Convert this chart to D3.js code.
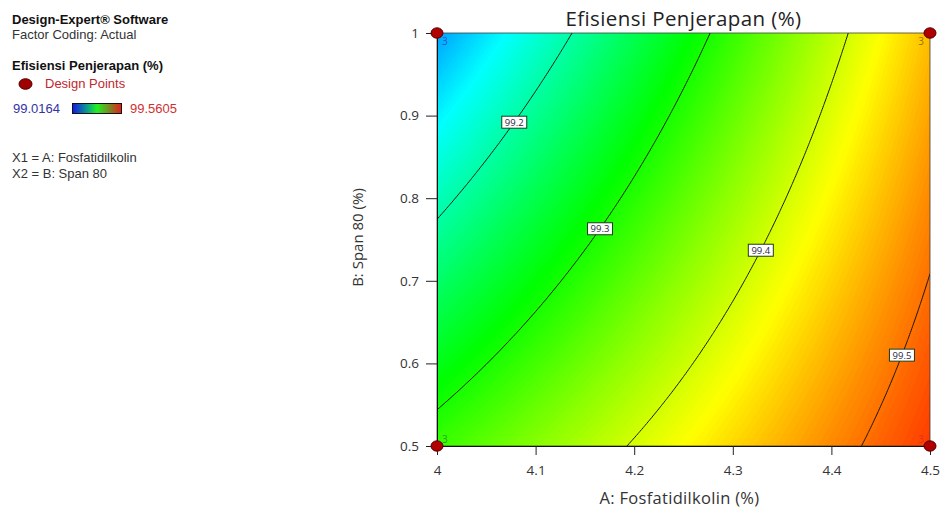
<!DOCTYPE html>
<html><head><meta charset="utf-8">
<script src="https://cdn.jsdelivr.net/npm/d3@7"></script>
<style>
body{margin:0;background:#fff}
svg{display:block;font-family:"Open Sans",sans-serif}
</style>
</head><body>
<svg id="chart" width="941" height="510"></svg>
<script>
// ---------- data ----------
const xDomain = [4, 4.5];
const yDomain = [0.5, 1];
const xTicks = [4, 4.1, 4.2, 4.3, 4.4, 4.5];
const xTickLabels = ["4", "4.1", "4.2", "4.3", "4.4", "4.5"];
const yTicks = [0.5, 0.6, 0.7, 0.8, 0.9, 1];
const yTickLabels = ["0.5", "0.6", "0.7", "0.8", "0.9", "1"];
// fitted 2FI model in coded units (Intercept, A, B, AB)
const modelTerms = ["Intercept", "A", "B", "AB"];
const modelCoefs = [99.3524, 0.1418, -0.0717, 0.0367];
const responseRange = [99.0164, 99.5605];
const contourLevels = [99.2, 99.3, 99.4, 99.5];
const contourLabels = ["99.2", "99.3", "99.4", "99.5"];
const labelAtSpan = [0.892, 0.763, 0.737, 0.610];
const designA = [4, 4.5, 4, 4.5];
const designB = [1, 1, 0.5, 0.5];
const designReps = ["3", "3", "3", "3"];
const designRepColors = ["#2f55c8", "#9a7400", "#27a21e", "#d8381a"];

// ---------- setup ----------
const svg = d3.select("#chart");
const W = 941, H = 510;
const L = 437, R = 930, T = 33, B = 446;
const x = d3.scaleLinear(xDomain, [L, R]);
const y = d3.scaleLinear(yDomain, [B, T]);

function model(a, b) {
  const x1 = (a - (xDomain[0] + xDomain[1]) / 2) / ((xDomain[1] - xDomain[0]) / 2);
  const x2 = (b - (yDomain[0] + yDomain[1]) / 2) / ((yDomain[1] - yDomain[0]) / 2);
  return modelCoefs[0] + modelCoefs[1] * x1 + modelCoefs[2] * x2 + modelCoefs[3] * x1 * x2;
}

const lo = responseRange[0], hi = responseRange[1];
const color = d3.scaleLinear()
  .domain([0, 0.25, 0.5, 0.75, 1].map(f => lo + f * (hi - lo)))
  .range(["#0000ff", "#00ffff", "#00ff00", "#ffff00", "#ff0000"])
  .clamp(true);

// grid
const n = 201;
const values = new Array(n * n);
for (let j = 0; j < n; j++) {
  const bv = yDomain[1] - j / (n - 1) * (yDomain[1] - yDomain[0]);
  for (let i = 0; i < n; i++) {
    const av = xDomain[0] + i / (n - 1) * (xDomain[1] - xDomain[0]);
    values[j * n + i] = model(av, bv);
  }
}
const proj = d3.geoTransform({
  point(cx, cy) {
    const av = xDomain[0] + (cx - 0.5) / (n - 1) * (xDomain[1] - xDomain[0]);
    const bv = yDomain[1] - (cy - 0.5) / (n - 1) * (yDomain[1] - yDomain[0]);
    this.stream.point(x(av), y(bv));
  }
});
const path = d3.geoPath(proj);

svg.append("rect").attr("width", W).attr("height", H).attr("fill", "#fff");

const defs = svg.append("defs");
defs.append("clipPath").attr("id", "plotclip")
  .append("rect").attr("x", L).attr("y", T).attr("width", R - L).attr("height", B - T);

// filled field
const step = 0.003;
const fillThresholds = d3.range(lo, hi, step);
const fills = d3.contours().size([n, n]).thresholds(fillThresholds)(values);
const gField = svg.append("g").attr("clip-path", "url(#plotclip)");
gField.selectAll("path").data(fills).join("path")
  .attr("d", path)
  .attr("fill", d => color(d.value + step / 2))
  .attr("stroke", d => color(d.value + step / 2))
  .attr("stroke-width", 0.6);

// contour lines
const lines = d3.contours().size([n, n]).thresholds(contourLevels)(values);
gField.selectAll("path.cl").data(lines).join("path")
  .attr("class", "cl")
  .attr("d", path)
  .attr("fill", "none")
  .attr("stroke", "#161616")
  .attr("stroke-width", 1);

// frame
svg.append("rect").attr("x", L).attr("y", T).attr("width", R - L).attr("height", B - T)
  .attr("fill", "none").attr("stroke", "#333").attr("stroke-width", 1).attr("stroke-opacity", 0.75);

// axes
const xAxis = svg.append("g").attr("transform", `translate(0,${B})`)
  .call(d3.axisBottom(x).tickValues(xTicks).tickSize(9).tickPadding(10)
    .tickFormat((d, i) => xTickLabels[i]));
const yAxis = svg.append("g").attr("transform", `translate(${L},0)`)
  .call(d3.axisLeft(y).tickValues(yTicks).tickSize(11).tickPadding(7)
    .tickFormat((d, i) => yTickLabels[i]));
[xAxis, yAxis].forEach(g => {
  g.select(".domain").attr("stroke", "#111");
  g.selectAll(".tick line").attr("stroke", "#222");
  g.selectAll(".tick text").attr("fill", "#333").attr("font-size", 13.5)
    .attr("font-family", "'Open Sans',sans-serif");
});

// contour labels
contourLevels.forEach((lev, k) => {
  const bv = labelAtSpan[k];
  let a0 = xDomain[0], a1 = xDomain[1];
  for (let it = 0; it < 60; it++) {
    const m = (a0 + a1) / 2;
    if (model(m, bv) < lev) a0 = m; else a1 = m;
  }
  const px = x((a0 + a1) / 2), py = y(bv);
  const g = svg.append("g").attr("transform", `translate(${px},${py})`);
  g.append("rect").attr("x", -12.5).attr("y", -6).attr("width", 25).attr("height", 12)
    .attr("fill", "#fff").attr("stroke", "#1d3a1d").attr("stroke-width", 1);
  g.append("text").attr("text-anchor", "middle").attr("y", 3.4)
    .attr("font-size", 9.5).attr("fill", "#2a2440").text(contourLabels[k]);
});

// design points
designA.forEach((a, k) => {
  const px = x(a), py = y(designB[k]);
  svg.append("ellipse").attr("cx", px).attr("cy", py).attr("rx", 6).attr("ry", 5.2)
    .attr("fill", "#b00000").attr("stroke", "#5a0000").attr("stroke-width", 1);
  const isTop = designB[k] === yDomain[1];
  const isRight = a === xDomain[1];
  svg.append("text")
    .attr("x", px + (isRight ? -6 : 5))
    .attr("y", py + (isTop ? 12 : -3))
    .attr("text-anchor", isRight ? "end" : "start")
    .attr("font-size", 10).attr("fill", designRepColors[k]).text(designReps[k]);
});

// titles
svg.append("text").attr("x", (L + R) / 2).attr("y", 26).attr("text-anchor", "middle")
  .attr("font-size", 20.5).attr("letter-spacing", 0.4).attr("fill", "#222")
  .text("Efisiensi Penjerapan (%)");
svg.append("text").attr("x", (L + R) / 2 - 4).attr("y", 504).attr("text-anchor", "middle")
  .attr("font-size", 16.5).attr("letter-spacing", 0.3).attr("fill", "#333")
  .text("A: Fosfatidilkolin (%)");
svg.append("text").attr("transform", `translate(363,${(T + B) / 2 - 2}) rotate(-90)`)
  .attr("text-anchor", "middle").attr("font-size", 15).attr("fill", "#333").text("B: Span 80 (%)");

// legend block
const leg = svg.append("g").attr("font-size", 13).attr("font-family", "'Liberation Sans',Arial,sans-serif");
leg.append("text").attr("x", 12).attr("y", 24).attr("font-weight", "bold").attr("fill", "#111")
  .text("Design-Expert® Software");
leg.append("text").attr("x", 12).attr("y", 39).attr("fill", "#333").text("Factor Coding: Actual");
leg.append("text").attr("x", 12).attr("y", 70).attr("font-weight", "bold").attr("fill", "#111")
  .text("Efisiensi Penjerapan (%)");
leg.append("ellipse").attr("cx", 25.5).attr("cy", 84).attr("rx", 6.5).attr("ry", 5.3)
  .attr("fill", "#a00000").attr("stroke", "#500000");
leg.append("text").attr("x", 45).attr("y", 88).attr("fill", "#c0282c").text("Design Points");
const lg = defs.append("linearGradient").attr("id", "lgrad");
[["0%", "#1616e8"], ["30%", "#0c9c8c"], ["50%", "#22f022"], ["75%", "#7a8a22"], ["100%", "#e81a1a"]]
  .forEach(([o, c]) => lg.append("stop").attr("offset", o).attr("stop-color", c));
leg.append("text").attr("x", 13).attr("y", 113).attr("fill", "#3034a8").text(lo.toFixed(4));
leg.append("rect").attr("x", 72.5).attr("y", 103.5).attr("width", 49).attr("height", 10)
  .attr("fill", "url(#lgrad)").attr("stroke", "#111").attr("stroke-width", 1);
leg.append("text").attr("x", 130).attr("y", 113).attr("fill", "#d03030").text(hi.toFixed(4));
leg.append("text").attr("x", 12).attr("y", 162).attr("fill", "#333").text("X1 = A: Fosfatidilkolin");
leg.append("text").attr("x", 12).attr("y", 178).attr("fill", "#333").text("X2 = B: Span 80");
</script>
</body></html>
